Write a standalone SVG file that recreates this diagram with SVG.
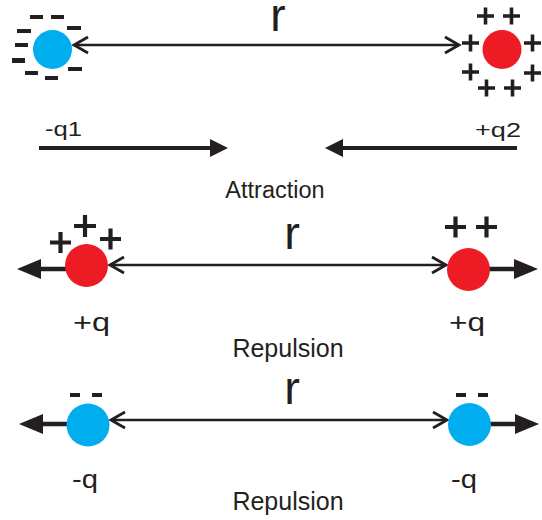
<svg xmlns="http://www.w3.org/2000/svg" width="542" height="520" viewBox="0 0 542 520">
<style>
.neg{fill:#00aeef}
.pos{fill:#ed1c24}
.thin{stroke:#231f20;stroke-width:2.6;fill:none}
.chev{stroke:#231f20;stroke-width:2.8;fill:none;stroke-linecap:butt;stroke-linejoin:miter}
.thick{stroke:#231f20;stroke-width:4.5;fill:none}
.head{fill:#231f20}
.plus{stroke:#231f20;stroke-width:3.6;fill:none}
.plusb{stroke:#231f20;stroke-width:4.2;fill:none}
.dash{fill:#231f20}
.t{font-family:"Liberation Sans",Arial,sans-serif;fill:#231f20}
</style>
<rect width="542" height="520" fill="#fff"/>

<g id="connectors">
  <!-- top r line -->
  <line class="thin" x1="74" y1="45" x2="459" y2="45"/>
  <polyline class="chev" points="88,37 74,45 88,53"/>
  <polyline class="chev" points="445,37 459,45 445,53"/>
  <!-- attraction arrows -->
  <line class="thick" x1="39" y1="148" x2="212" y2="148" style="stroke-width:4"/>
  <polygon class="head" points="210,139 228,148 210,157"/>
  <line class="thick" x1="517" y1="148" x2="341" y2="148" style="stroke-width:4"/>
  <polygon class="head" points="343,139 325,148 343,157"/>
  <!-- repulsion 1 -->
  <line class="thin" x1="110" y1="265" x2="446" y2="265"/>
  <polyline class="chev" points="124,257 110,265 124,273"/>
  <polyline class="chev" points="432,257 446,265 432,273"/>
  <line class="thick" x1="66" y1="269" x2="38" y2="269"/>
  <polygon class="head" points="41,259 17,269 41,279"/>
  <line class="thick" x1="489" y1="269" x2="516" y2="269"/>
  <polygon class="head" points="514,259 538,269 514,279"/>
  <!-- repulsion 2 -->
  <line class="thin" x1="111" y1="420" x2="447" y2="420"/>
  <polyline class="chev" points="125,412 111,420 125,428"/>
  <polyline class="chev" points="433,412 447,420 433,428"/>
  <line class="thick" x1="67" y1="424" x2="40" y2="424"/>
  <polygon class="head" points="43,414 19,424 43,434"/>
  <line class="thick" x1="490" y1="424" x2="517" y2="424"/>
  <polygon class="head" points="515,414 539,424 515,434"/>
</g>

<g id="q1-top">
  <circle class="neg" cx="52.5" cy="49.5" r="19.5"/>
  <rect class="dash" x="30" y="15" width="13" height="4"/>
  <rect class="dash" x="51" y="15" width="13" height="4"/>
  <rect class="dash" x="17" y="29" width="14" height="4"/>
  <rect class="dash" x="67" y="26" width="14" height="4"/>
  <rect class="dash" x="15" y="43" width="13" height="4"/>
  <rect class="dash" x="12" y="58" width="13" height="5"/>
  <rect class="dash" x="25" y="71" width="13" height="4"/>
  <rect class="dash" x="45" y="76" width="13" height="4"/>
  <rect class="dash" x="68" y="67" width="14" height="4"/>
</g>

<g id="q2-top">
  <circle class="pos" cx="502" cy="49.5" r="19.5"/>
  <path class="plus" d="M477,16h17M485.5,7.5v17 M503,16h17M511.5,7.5v17 M462,43h17M470.5,34.5v17 M524,43h17M532.5,34.5v17 M462,72h17M470.5,63.5v17 M478,88h17M486.5,79.5v17 M504,88h17M512.5,79.5v17 M524,73h17M532.5,64.5v17"/>
</g>

<g id="labels-top">
  <text class="t" x="278" y="31" font-size="46" text-anchor="middle">r</text>
  <text class="t" x="45" y="136" font-size="21" textLength="37" lengthAdjust="spacingAndGlyphs">-q1</text>
  <text class="t" x="475" y="137" font-size="21" textLength="46" lengthAdjust="spacingAndGlyphs">+q2</text>
  <text class="t" x="275" y="198" font-size="23.5" text-anchor="middle">Attraction</text>
</g>

<g id="pos-left">
  <circle class="pos" cx="86.5" cy="265.5" r="21.5"/>
  <path class="plusb" d="M50,242.5h21M60.5,232v21 M74,226h22M85,215v22 M100,239h21M110.5,228.5v21"/>
</g>

<g id="pos-right">
  <circle class="pos" cx="468.5" cy="269.5" r="21.5"/>
  <path class="plusb" d="M445,227h21M455.5,216.5v21 M476,227h21M486.5,216.5v21"/>
</g>

<g id="labels-mid">
  <text class="t" x="292" y="249" font-size="47" text-anchor="middle">r</text>
  <text class="t" x="73" y="331" font-size="26" textLength="37" lengthAdjust="spacingAndGlyphs">+q</text>
  <text class="t" x="449" y="331" font-size="26" textLength="36" lengthAdjust="spacingAndGlyphs">+q</text>
  <text class="t" x="288" y="357" font-size="25" text-anchor="middle">Repulsion</text>
</g>

<g id="neg-left">
  <circle class="neg" cx="88" cy="425" r="21.5"/>
  <rect class="dash" x="70" y="393" width="10" height="4"/>
  <rect class="dash" x="92" y="393" width="10" height="4"/>
</g>

<g id="neg-right">
  <circle class="neg" cx="469.5" cy="424.5" r="21.5"/>
  <rect class="dash" x="456" y="393" width="10" height="4"/>
  <rect class="dash" x="478" y="393" width="10" height="4"/>
</g>

<g id="labels-bottom">
  <text class="t" x="292" y="404" font-size="47" text-anchor="middle">r</text>
  <text class="t" x="72" y="488" font-size="26" textLength="26" lengthAdjust="spacingAndGlyphs">-q</text>
  <text class="t" x="451" y="488" font-size="26" textLength="26" lengthAdjust="spacingAndGlyphs">-q</text>
  <text class="t" x="288" y="510" font-size="25" text-anchor="middle">Repulsion</text>
</g>
</svg>
